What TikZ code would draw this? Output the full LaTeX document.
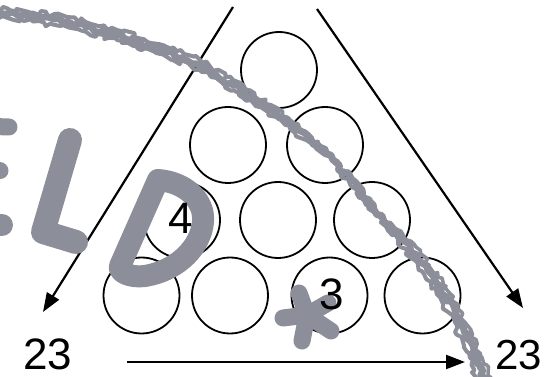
\documentclass[tikz,border=0pt]{standalone}
\usepackage{fontspec}
\setmainfont{Liberation Sans}
\usetikzlibrary{arrows.meta,decorations.pathmorphing}
\definecolor{scribble}{RGB}{140,143,153}

\begin{document}
\begin{tikzpicture}[x=1pt,y=-1pt,
  ball/.style={circle,draw=black,line width=1.8pt,minimum size=76pt,inner sep=0pt},
  lbl/.style={inner sep=0pt,font=\fontsize{44}{44}\selectfont},
  arr/.style={line width=2.2pt,-{Triangle[length=19pt,width=14pt]}},
  ink/.style={draw=scribble,line cap=round,line join=round},
  rough/.style={draw=scribble,line cap=round,line join=round,decorate,
    decoration={random steps,segment length=4pt,amplitude=2.6pt}}]
\useasboundingbox (0,0) rectangle (547,377);
\pgfmathsetseed{7}

% ten balls in four rows
\node[ball] (b1)  at (279,70)      {};
\node[ball] (b2)  at (228,145)     {};
\node[ball] (b3)  at (325,145)     {};
\node[ball] (b4)  at (182,220)     {};
\node[ball] (b5)  at (278,220)     {};
\node[ball] (b6)  at (372,220)     {};
\node[ball] (b7)  at (141.5,295.5) {};
\node[ball] (b8)  at (230,295.5)   {};
\node[ball] (b9)  at (329.5,295.5) {};
\node[ball] (b10) at (422.5,295.5) {};

% arrows along the sides and the base
\coordinate (lt) at (233,7);
\coordinate (lb) at (43,312);
\coordinate (rt) at (317,9);
\coordinate (rb) at (523,308);
\coordinate (bl) at (127,362);
\coordinate (br) at (465,362);
\draw[arr] (lt) -- (lb);
\draw[arr] (rt) -- (rb);
\draw[arr] (bl) -- (br);

% hand-drawn overlay: long ragged arc
\draw[rough,line width=7pt] (-5,12) -- (67,22) -- (117,35) -- (167,52) -- (200,65)
  -- (233,85) -- (265,105) -- (295,128) -- (323,150) -- (352,180) -- (376,213)
  -- (410,247) -- (435,280) -- (460,320) -- (480,367) -- (487,385);
\draw[rough,line width=4pt] (-5,7) -- (67,17) -- (117,30) -- (167,47) -- (200,60)
  -- (233,80) -- (265,101) -- (295,124) -- (321,146) -- (348,176);
\draw[rough,line width=4pt] (-5,16) -- (60,26) -- (117,40) -- (167,57) -- (200,70)
  -- (233,90) -- (265,110) -- (295,133) -- (325,155);
\draw[rough,line width=4pt] (340,172) -- (368,205) -- (398,240) -- (424,274)
  -- (448,312) -- (470,358) -- (478,385);
\draw[rough,line width=3.5pt] (390,222) -- (420,252) -- (446,286) -- (468,326)
  -- (488,372) -- (492,385);

% hand-drawn overlay: letters
\draw[ink,line width=17pt] (-20,126) -- (9,127);
\draw[ink,line width=17pt] (-20,171) -- (0,171);
\draw[ink,line width=22pt] (-20,225) -- (2,225);
\draw[ink,line width=24pt] (70,140) -- (43,232) -- (76,242);
\draw[ink,line width=22pt] (158,180) .. controls (185,182) and (205,200) .. (203,222)
  .. controls (201,245) and (180,270) .. (145,276)
  .. controls (130,278) and (118,272) .. (120,266) -- cycle;

% hand-drawn overlay: star
\draw[ink,line width=17pt] (307,315) -- (299,293)
  (307,315) -- (328,303)
  (307,315) -- (331,331)
  (307,315) -- (302,341)
  (307,315) -- (283,318);

% numbers written in two of the balls
\node[lbl] (n4) at ([shift={(-1,-2)}]b4.center) {4};
\node[lbl] (n3) at ([shift={(2.5,-1.5)}]b9.center) {3};

% counts
\node[lbl] (cl) at (48,354)  {23};
\node[lbl,font=\fontsize{42}{42}\selectfont] (cr) at (519,355) {23};
\end{tikzpicture}
\end{document}
